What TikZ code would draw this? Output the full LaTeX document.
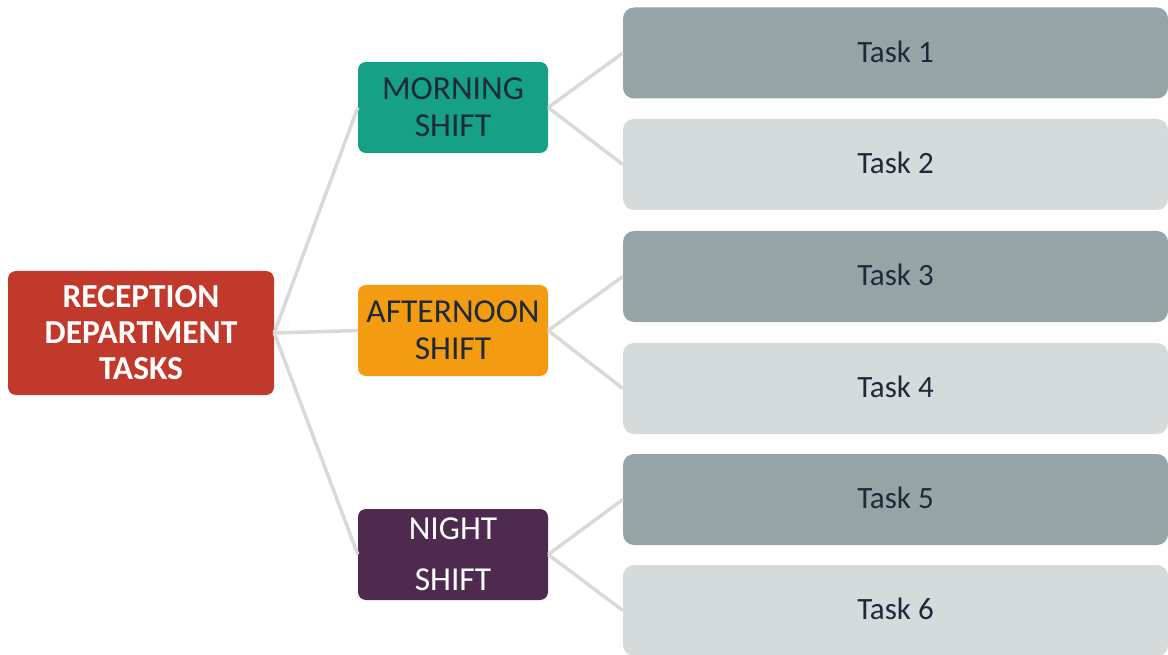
\documentclass[tikz,border=0pt]{standalone}
\usepackage{fontspec}
\setmainfont{Carlito}
\definecolor{rootc}{HTML}{C0392B}
\definecolor{mornc}{HTML}{16A085}
\definecolor{aftc}{HTML}{F39C12}
\definecolor{nightc}{HTML}{4E2A4F}
\definecolor{taskdark}{HTML}{95A5A6}
\definecolor{tasklight}{HTML}{D5DBDB}
\definecolor{linkc}{HTML}{D9D9D9}
\definecolor{darktext}{HTML}{1E2A3A}
\begin{document}
\begin{tikzpicture}[x=1pt,y=-1pt,
  base/.style={rectangle, rounded corners=8pt, inner sep=0pt, align=center},
  rootbox/.style={base, fill=rootc, text=white, minimum width=266pt, minimum height=124pt,
    font=\fontsize{33.5}{36}\selectfont\bfseries},
  shiftbox/.style={base, minimum width=190pt, minimum height=91pt,
    font=\fontsize{33.5}{37}\selectfont},
  taskbox/.style={base, rounded corners=11pt, minimum width=545pt, minimum height=91pt,
    text=darktext, font=\fontsize{31}{36}\selectfont},
  tasktext/.style={yshift=3pt},
  link/.style={draw=linkc, line width=3.5pt}
]
\useasboundingbox (0,0) rectangle (1168,655);
\node[rootbox] (root) at (141,333) {RECEPTION\\DEPARTMENT\\TASKS};
\node[shiftbox, fill=mornc, text=darktext] (morn) at (453,107.5) {MORNING\\SHIFT};
\node[shiftbox, fill=aftc, text=darktext] (aft) at (453,330.5) {AFTERNOON\\SHIFT};
\node[shiftbox, fill=nightc, text=white, font=\fontsize{33.5}{51}\selectfont] (night) at (453,554.5) {NIGHT\\SHIFT};
\node[taskbox, fill=taskdark] (t1) at (895.5,53) {\raisebox{3pt}{Task 1}};
\node[taskbox, fill=tasklight] (t2) at (895.5,164.5) {\raisebox{3pt}{Task 2}};
\node[taskbox, fill=taskdark] (t3) at (895.5,276.5) {\raisebox{3pt}{Task 3}};
\node[taskbox, fill=tasklight] (t4) at (895.5,388.5) {\raisebox{3pt}{Task 4}};
\node[taskbox, fill=taskdark] (t5) at (895.5,499.5) {\raisebox{3pt}{Task 5}};
\node[taskbox, fill=tasklight] (t6) at (895.5,610.5) {\raisebox{3pt}{Task 6}};
\draw[link] (root.east) -- (morn.west);
\draw[link] (root.east) -- (aft.west);
\draw[link] (root.east) -- (night.west);
\draw[link] (morn.east) -- (t1.west);
\draw[link] (morn.east) -- (t2.west);
\draw[link] (aft.east) -- (t3.west);
\draw[link] (aft.east) -- (t4.west);
\draw[link] (night.east) -- (t5.west);
\draw[link] (night.east) -- (t6.west);
\end{tikzpicture}
\end{document}
